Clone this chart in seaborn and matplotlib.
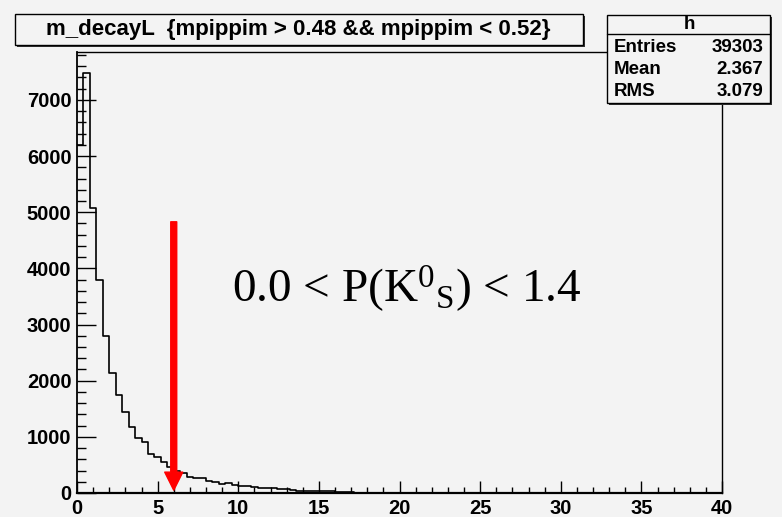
import numpy as np
import pandas as pd
import matplotlib
matplotlib.use("Agg")
import matplotlib.pyplot as plt
from matplotlib.patches import Rectangle, FancyArrowPatch
from matplotlib import font_manager
import seaborn as sns

# ---------------- data ----------------
bin_width = 0.4
bin_edges = [round(i * bin_width, 1) for i in range(101)]
counts = [6200, 7480, 5080, 3785, 2804, 2145, 1747, 1438, 1171, 986,
          900, 700, 640, 560, 470, 400, 350, 290, 265, 260,
          220, 190, 160, 175, 150, 130, 128, 112, 95, 92,
          90, 72, 68, 48, 40, 38, 35, 32, 30, 28,
          25, 22, 20] + [0] * 57
title_text = "m_decayL  {mpippim > 0.48 && mpippim < 0.52}"
stats_name = "h"
stats_labels = ["Entries", "Mean", "RMS"]
stats_values = ["39303", "2.367", "3.079"]
x_ticks = [0, 5, 10, 15, 20, 25, 30, 35, 40]
y_ticks = [0, 1000, 2000, 3000, 4000, 5000, 6000, 7000]
arrow_x = 6.0
arrow_top = 4830
arrow_tip = 50
cut_label = r"0.0 < P(K$^{0}$$_{\mathrm{S}}$) < 1.4"

centers = [(bin_edges[i] + bin_edges[i + 1]) / 2 for i in range(100)]
df = pd.DataFrame({"decayL": centers, "n": counts})

# ---------------- style ----------------
sns.set_theme(style="white")
avail = {f.name for f in font_manager.fontManager.ttflist}
narrow = "Liberation Sans Narrow" if "Liberation Sans Narrow" in avail else "Liberation Sans"
plt.rcParams["font.family"] = [narrow, "DejaVu Sans"]
plt.rcParams["mathtext.fontset"] = "custom"
plt.rcParams["mathtext.rm"] = "Liberation Serif"
plt.rcParams["mathtext.it"] = "Liberation Serif:italic"
bg = "#f3f3f3"

W, H = 782, 517
fig = plt.figure(figsize=(W / 100, H / 100), dpi=100, facecolor=bg)
ax = fig.add_axes([77 / W, 1 - 493 / H, (722 - 77) / W, (493 - 52) / H])
ax.set_facecolor(bg)

sns.histplot(data=df, x="decayL", weights="n", bins=bin_edges,
             element="step", fill=False, color="black", linewidth=1.2, ax=ax)

ax.set_xlim(0, 40)
ax.set_ylim(0, 1.05 * max(counts))
ax.set_xlabel("")
ax.set_ylabel("")
ax.set_xticks(x_ticks)
ax.set_xticks(np.arange(0, 41, 1), minor=True)
ax.set_yticks(y_ticks)
ax.set_yticks(np.arange(0, 7801, 200), minor=True)
ax.set_xticklabels([str(v) for v in x_ticks])
ax.set_yticklabels([str(v) for v in y_ticks])
ax.tick_params(axis="x", which="major", direction="in", length=9, width=1.0,
               color="black", labelsize=14.5, pad=4, bottom=True, top=False)
ax.tick_params(axis="x", which="minor", direction="in", length=4.5, width=1.0,
               color="black", bottom=True, top=False)
ax.tick_params(axis="y", which="major", direction="in", length=13.7, width=1.0,
               color="black", labelsize=14.5, pad=4, left=True, right=False)
ax.tick_params(axis="y", which="minor", direction="in", length=6.8, width=1.0,
               color="black", left=True, right=False)
for lab in ax.get_xticklabels() + ax.get_yticklabels():
    lab.set_fontweight("bold")
    lab.set_color("black")
for s in ax.spines.values():
    s.set_color("black")
    s.set_linewidth(1.0)
ax.spines["bottom"].set_linewidth(1.6)
ax.spines["left"].set_linewidth(1.3)

# red arrow
arr = FancyArrowPatch((arrow_x, arrow_top), (arrow_x, arrow_tip),
                      arrowstyle="simple,head_width=1.3,head_length=1.3,tail_width=0.43",
                      mutation_scale=10, color="#ff0000", shrinkA=0, shrinkB=0, zorder=5)
ax.add_patch(arr)

# cut label
fig.text(232 / W, 1 - 302 / H, cut_label, fontsize=34, family="Liberation Serif",
         ha="left", va="baseline", color="black")

# title box with shadow
def box(x0, y0, x1, y1):
    fig.patches.append(Rectangle((x0 / W + 2 / W, 1 - (y1 + 2) / H), (x1 - x0) / W, (y1 - y0) / H,
                                 transform=fig.transFigure, facecolor="#333333",
                                 edgecolor="none", zorder=1))
    fig.patches.append(Rectangle((x0 / W, 1 - y1 / H), (x1 - x0) / W, (y1 - y0) / H,
                                 transform=fig.transFigure, facecolor=bg,
                                 edgecolor="black", linewidth=1.0, zorder=2))

box(15, 14, 583, 45)
fig.text(298 / W, 1 - 30 / H, title_text, fontsize=16, fontweight="bold",
         ha="center", va="center", color="black", zorder=3)

box(607, 15, 770, 103)
fig.lines.append(plt.Line2D([607 / W, 770 / W], [1 - 34 / H, 1 - 34 / H],
                            transform=fig.transFigure, color="black", linewidth=1.0, zorder=3))
fig.text(689 / W, 1 - 24.5 / H, stats_name, fontsize=13.5, fontweight="bold",
         ha="center", va="center", color="black", zorder=3)
for i, (lab, val) in enumerate(zip(stats_labels, stats_values)):
    yy = 1 - (48 + i * 22) / H
    fig.text(614 / W, yy, lab, fontsize=13.5, fontweight="bold", ha="left",
             va="center", color="black", zorder=3)
    fig.text(763 / W, yy, val, fontsize=13.5, fontweight="bold", ha="right",
             va="center", color="black", zorder=3)

fig.savefig("out.png", dpi=100, facecolor=bg)
